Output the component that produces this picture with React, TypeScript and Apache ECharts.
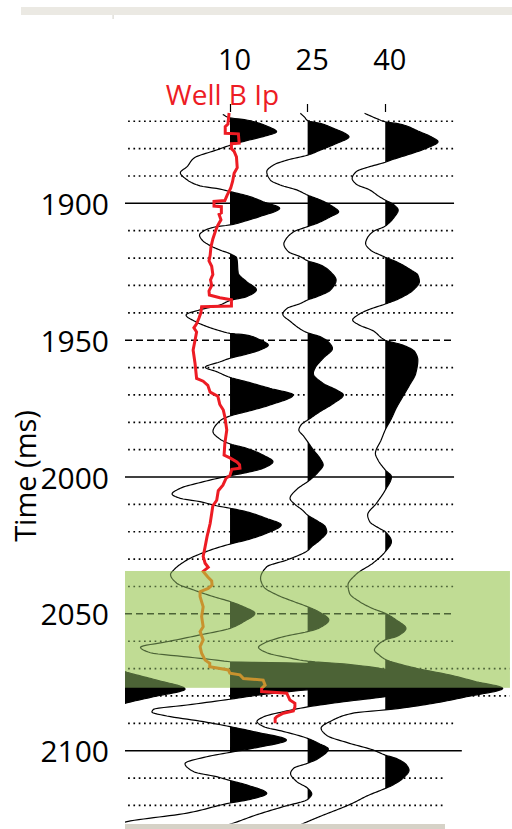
import React, { useEffect, useRef } from "react";
import * as echarts from "echarts";

// ---- axes -----------------------------------------------------------------
const TIME_LABELS = [1900, 1950, 2000, 2050, 2100];
const TRACE_LABELS = [10, 25, 40];
const GUIDE_TIMES = [
  1870, 1880, 1890, 1900, 1910, 1920, 1930, 1940, 1950, 1960, 1970, 1980, 1990,
  2000, 2010, 2020, 2030, 2040, 2050, 2060, 2070, 2080, 2090, 2100, 2110, 2120,
];
const TIME_RANGE = [1863.7, 2126.6];
const OFFSET_RANGE = [-10.3, 64.5];

// highlighted interval (ms)
const GREEN_ZONE = [2034.3, 2077.0];

// ---- wiggle traces: [time ms, amplitude] ------------------------------------
const TRACE_10: [number, number][] = [
  [1867.5, -1.4], [1868.8, 0], [1869.2, 2.0], [1870.1, 4.5], [1871.7, 7.0], [1873.8, 9.0],
  [1875.6, 6.4], [1877.1, 3.2], [1878.8, 0], [1880.5, -2.6], [1883.5, -7.0], [1886.6, -8.3],
  [1888.8, -9.6], [1891.4, -8.3], [1893.6, -5.8], [1894.8, -1.9], [1895.7, 0], [1897.5, 3.8],
  [1899.4, 6.4], [1901.8, 9.6], [1904.8, 5.8], [1906.3, 3.2], [1907.9, 0], [1908.5, -2.6],
  [1910.1, -5.1], [1911.6, -5.9], [1913.4, -5.4], [1915.5, -3.8], [1917.1, -1.9], [1918.4, 0],
  [1920.0, 1.3], [1925.5, 1.6], [1928.6, 3.2], [1931.6, 5.1], [1934.1, 3.2], [1935.5, 0],
  [1937.1, -1.9], [1938.9, -5.8], [1940.8, -8.5], [1943.2, -6.7], [1945.0, -4.5], [1946.6, -1.9],
  [1947.5, 0], [1948.1, 3.2], [1949.9, 5.8], [1951.8, 7.4], [1953.6, 5.8], [1955.4, 2.6],
  [1956.6, 0], [1957.9, -1.9], [1959.9, -4.8], [1961.5, -2.6], [1963.6, 0], [1965.2, 3.2],
  [1967.6, 7.7], [1970.0, 12.2], [1973.7, 7.7], [1976.1, 3.2], [1977.7, 0], [1979.4, -1.9],
  [1983.4, -3.3], [1986.2, -1.9], [1987.9, 0], [1989.5, 3.2], [1992.0, 6.4], [1994.4, 8.3],
  [1996.8, 6.4], [1998.6, 2.6], [1999.5, 0], [2001.7, -5.1], [2004.1, -9.6], [2006.2, -11.2],
  [2007.8, -9.6], [2009.0, -5.8], [2010.5, -2.6], [2011.4, 0], [2012.7, 3.2], [2015.1, 7.0],
  [2017.5, 9.9], [2020.6, 7.0], [2023.0, 3.2], [2024.5, 0], [2026.7, -3.8], [2030.3, -8.3],
  [2034.0, -10.9], [2035.6, -11.5], [2038.8, -10.3], [2041.3, -7.0], [2043.7, -3.2], [2045.5, 0],
  [2047.4, 2.6], [2049.8, 4.8], [2052.9, 2.6], [2055.3, 0], [2057.7, -5.8], [2060.2, -12.2],
  [2062.2, -17.3], [2064.2, -15.4], [2065.6, -9.0], [2066.9, -2.6], [2067.5, 0], [2068.1, 14.8],
  [2070.5, 20.0], [2074.0, 23.0], [2077.0, 18.0], [2078.5, 11.0], [2079.6, 5.8], [2081.2, 0],
  [2083.3, -8.3], [2084.9, -14.8], [2085.9, -15.1], [2087.1, -12.8], [2089.4, -5.1], [2091.2, 0],
  [2093.0, 4.5], [2096.1, 10.9], [2099.1, 4.5], [2100.6, 0], [2102.2, -4.5], [2104.7, -8.7],
  [2107.7, -7.0], [2109.5, -2.6], [2110.9, 0], [2112.5, 3.2], [2115.6, 7.1], [2117.8, 3.9],
  [2119.1, 0], [2122.8, -8.3], [2125.9, -19.9], [2128.0, -24.0],
];

const TRACE_25: [number, number][] = [
  [1867.1, -1.4], [1868.5, -0.6], [1869.8, 0], [1870.8, 2.5], [1872.6, 5.0], [1874.4, 7.2],
  [1875.7, 8.0], [1878.1, 5.6], [1880.5, 2.5], [1882.4, 0], [1884.2, -4.0], [1886.0, -6.6],
  [1888.4, -7.9], [1891.5, -7.2], [1893.3, -5.3], [1895.1, -2.1], [1897.0, 0], [1898.8, 2.5],
  [1901.0, 4.7], [1903.1, 6.0], [1904.9, 4.4], [1907.3, 1.8], [1908.5, 0], [1910.4, -2.7],
  [1913.4, -4.3], [1914.8, -4.6], [1917.7, -3.7], [1919.5, -1.4], [1921.0, 0], [1922.5, 2.5],
  [1925.0, 4.4], [1928.0, 5.5], [1931.7, 4.4], [1934.1, 1.8], [1935.3, 0], [1936.6, -1.4],
  [1938.4, -4.0], [1940.5, -4.8], [1943.2, -3.3], [1946.3, -1.1], [1947.3, 0], [1948.7, 2.4],
  [1951.2, 4.3], [1953.0, 4.8], [1956.6, 3.0], [1960.3, 1.4], [1962.1, 1.1], [1965.8, 3.0],
  [1968.2, 5.6], [1970.0, 6.9], [1973.1, 5.0], [1976.1, 2.4], [1979.2, 0], [1980.8, -1.2],
  [1982.8, -1.7], [1985.0, -0.8], [1987.1, 0], [1990.1, 1.1], [1993.2, 2.4], [1995.6, 3.0],
  [1998.1, 2.1], [2000.5, 0.8], [2001.7, 0], [2004.5, -2.1], [2007.8, -3.4], [2009.9, -2.5],
  [2012.1, -1.0], [2013.9, 0], [2016.3, 2.1], [2018.1, 3.4], [2020.0, 3.7], [2023.0, 2.4],
  [2025.4, 0.8], [2026.9, 0], [2030.3, -4.0], [2032.8, -7.9], [2037.0, -9.1], [2040.1, -8.5],
  [2043.1, -5.9], [2045.5, -2.7], [2047.4, 0], [2049.2, 2.1], [2052.2, 4.1], [2055.3, 2.1],
  [2056.5, 0], [2058.3, -4.6], [2060.8, -8.5], [2062.2, -9.5], [2064.2, -7.9], [2066.2, -3.3],
  [2067.3, 0], [2068.3, 7.0], [2070.3, 15.0], [2073.0, 19.0], [2076.5, 22.0], [2078.5, 19.0],
  [2080.3, 14.7], [2082.1, 7.0], [2084.0, 0], [2085.7, -4.6], [2087.6, -8.5], [2089.3, -9.8],
  [2091.2, -8.5], [2093.0, -4.6], [2095.5, 0], [2097.3, 2.1], [2099.4, 4.0], [2102.8, 2.1],
  [2104.6, 0], [2106.4, -2.7], [2108.3, -3.3], [2111.3, -2.1], [2113.7, 0], [2115.8, 0.8],
  [2117.8, 0], [2120.4, -4.6], [2123.5, -10.0], [2126.5, -14.4], [2128.0, -17.0],
];

const TRACE_40: [number, number][] = [
  [1867.1, -4.0], [1869.0, -1.7], [1870.2, 0], [1871.0, 2.8], [1873.8, 6.6], [1875.7, 8.9],
  [1877.5, 10.2], [1879.9, 7.9], [1882.4, 4.1], [1884.4, 0.8], [1885.0, 0], [1886.6, -3.0],
  [1888.4, -5.6], [1890.9, -6.4], [1893.0, -5.6], [1895.1, -3.0], [1897.6, -1.1], [1898.8, 0],
  [1900.3, 1.5], [1902.5, 2.5], [1904.9, 1.8], [1908.3, 0], [1910.4, -2.4], [1912.8, -3.5],
  [1914.6, -3.8], [1917.3, -2.7], [1919.0, -0.8], [1919.7, 0], [1921.3, 2.1], [1924.4, 5.0],
  [1926.2, 6.3], [1928.6, 6.6], [1931.7, 5.4], [1934.7, 2.8], [1936.8, 0], [1938.7, -3.0],
  [1940.8, -5.3], [1942.6, -6.3], [1944.5, -5.0], [1946.5, -2.4], [1950.0, 0], [1951.8, 3.4],
  [1954.2, 5.7], [1957.3, 6.3], [1962.1, 5.9], [1966.4, 4.7], [1970.6, 3.4], [1974.9, 2.1],
  [1978.6, 1.2], [1982.8, 0], [1986.5, -0.8], [1991.4, -1.9], [1993.8, -1.4], [1997.4, 0],
  [1999.9, 1.2], [2004.8, 0], [2009.6, -1.7], [2013.9, -3.4], [2016.3, -3.0], [2018.8, -1.1],
  [2020.0, 0], [2023.6, 1.2], [2027.3, 0], [2031.5, -2.4], [2035.5, -5.6], [2039.5, -7.2],
  [2042.5, -6.9], [2045.5, -5.0], [2048.0, -2.5], [2049.8, 0], [2052.2, 2.1], [2055.3, 4.0],
  [2058.1, 2.4], [2059.5, 0], [2061.5, -1.5], [2063.2, -2.1], [2065.0, -1.2], [2066.6, 0],
  [2069.9, 6.0], [2072.3, 12.4], [2074.8, 17.6], [2077.2, 22.7], [2080.3, 15.7], [2082.7, 9.2],
  [2084.5, 2.8], [2085.1, 0], [2086.2, -6.0], [2088.8, -10.1], [2091.8, -12.4], [2094.3, -11.4],
  [2097.3, -6.9], [2099.7, -2.4], [2101.6, 0], [2102.8, 2.1], [2105.2, 4.1], [2107.1, 4.6],
  [2110.1, 3.4], [2112.5, 1.5], [2113.8, 0], [2116.5, -3.5], [2119.2, -6.3], [2124.1, -12.7],
  [2125.9, -15.0], [2128.0, -17.5],
];

// neighbouring trace left of the panel; only its strong peak reaches in
const TRACE_LEFT: [number, number][] = [
  [2062.0, 0], [2071.1, 9.7], [2073.9, 15.2], [2077.5, 21.3], [2080.3, 15.2], [2082.7, 9.7], [2090.0, 0],
];

const TRACES = [
  { offset: -20, samples: TRACE_LEFT },
  { offset: 10, samples: TRACE_10 },
  { offset: 25, samples: TRACE_25 },
  { offset: 40, samples: TRACE_40 },
];

// ---- Well B acoustic impedance (relative units): [time ms, Ip] ----------------
const WELL_B_IP: [number, number][] = [
  [1867.0, 26.9], [1871.0, 26.6], [1872.0, 25.9], [1874.4, 25.9], [1874.6, 29.3], [1878.0, 29.5],
  [1878.2, 27.5], [1880.0, 27.5], [1881.0, 28.2], [1883.0, 28.8], [1887.0, 29.0], [1889.0, 28.2],
  [1892.0, 27.8], [1894.5, 27.3], [1897.0, 26.4], [1899.0, 25.8], [1899.3, 23.0], [1901.0, 23.0],
  [1901.2, 24.9], [1903.5, 24.9], [1904.0, 24.3], [1906.0, 24.8], [1908.0, 24.0], [1910.0, 23.4],
  [1913.0, 22.7], [1916.0, 22.2], [1919.0, 22.0], [1921.0, 21.7], [1923.0, 22.4], [1926.0, 22.7],
  [1928.0, 22.1], [1930.0, 22.4], [1932.0, 21.7], [1933.5, 21.8], [1934.5, 24.5], [1935.2, 27.5],
  [1937.5, 27.5], [1937.8, 19.8], [1940.0, 19.6], [1942.0, 19.1], [1944.0, 18.5], [1945.5, 17.8],
  [1947.0, 18.5], [1950.0, 18.1], [1953.6, 17.6], [1958.5, 18.1], [1964.0, 18.5], [1965.0, 20.2],
  [1966.5, 21.4], [1969.0, 22.0], [1970.5, 24.0], [1973.5, 24.5], [1975.5, 25.4], [1978.0, 25.8],
  [1982.8, 26.3], [1987.7, 25.8], [1992.0, 25.6], [1993.0, 27.1], [1994.5, 28.9], [1995.5, 29.6],
  [1996.8, 29.7], [1997.2, 27.6], [1999.5, 27.1], [2000.5, 26.1], [2003.0, 25.3], [2005.0, 24.1],
  [2008.5, 23.7], [2010.5, 22.7], [2013.3, 22.4], [2017.0, 22.0], [2021.8, 21.2], [2025.5, 20.7],
  [2029.0, 20.2], [2031.5, 20.7], [2033.0, 21.5], [2034.5, 20.2], [2036.5, 21.4], [2038.0, 22.4],
  [2039.5, 22.5], [2040.7, 21.5], [2041.9, 19.4], [2043.7, 19.4], [2047.4, 20.2], [2051.0, 19.8],
  [2054.7, 20.2], [2056.5, 19.4], [2059.5, 20.2], [2062.0, 19.4], [2064.4, 19.8], [2066.9, 20.7],
  [2068.1, 21.9], [2069.3, 21.9], [2070.5, 26.7], [2071.7, 27.1], [2072.3, 29.7], [2073.6, 30.6],
  [2074.2, 35.7], [2076.0, 36.2], [2077.2, 35.3], [2078.4, 35.3], [2079.0, 41.8], [2081.5, 42.6],
  [2082.7, 43.9], [2084.0, 43.9], [2085.5, 43.5], [2086.3, 40.9], [2087.6, 39.2], [2088.2, 38.8],
  [2090.0, 38.8],
];

// ---- styling --------------------------------------------------------------
const FONT = '"Open Sans", "Noto Sans", sans-serif';
const RED = "#ed1c24";
const OCHRE = "#c8922e";
const GREEN_BASE = "rgb(197,206,161)";
const GREEN_VEIL = "rgba(185,240,130,0.41)";

// horizontal extent (offset units) of each guide line
function guideExtent(t: number): [number, number] {
  if (t === 2100) return [-10.3, 54.8];
  if (t % 50 === 0) return [-10.3, 53.3];
  if (t === 2070 || t === 2080) return [-9.7, 64.1];
  if (t >= 2110) return [-9.7, 51.2];
  return [-9.7, 53.3];
}

function guideStyle(t: number) {
  if (t % 100 === 0) return { stroke: "#000", lineWidth: 1.5 };
  if (t % 50 === 0) return { stroke: "#000", lineWidth: 1.5, lineDash: [7, 4] };
  return { stroke: "#000", lineWidth: 1.7, lineDash: [1.7, 3.6] };
}

// monotone cubic (Fritsch–Carlson) resampling of amplitude against time
function monotone(pts: [number, number][], step: number): [number, number][] {
  const n = pts.length;
  const h: number[] = [];
  const d: number[] = [];
  for (let i = 0; i < n - 1; i++) {
    h[i] = pts[i + 1][0] - pts[i][0];
    d[i] = (pts[i + 1][1] - pts[i][1]) / h[i];
  }
  const m: number[] = new Array(n).fill(0);
  m[0] = d[0];
  m[n - 1] = d[n - 2];
  for (let i = 1; i < n - 1; i++) {
    if (d[i - 1] * d[i] <= 0) m[i] = 0;
    else {
      const w1 = 2 * h[i] + h[i - 1];
      const w2 = h[i] + 2 * h[i - 1];
      m[i] = (w1 + w2) / (w1 / d[i - 1] + w2 / d[i]);
    }
  }
  const out: [number, number][] = [];
  for (let i = 0; i < n - 1; i++) {
    const k = Math.max(2, Math.ceil(h[i] / step));
    for (let j = 0; j < k; j++) {
      const s = j / k;
      const s2 = s * s;
      const s3 = s2 * s;
      const a =
        (2 * s3 - 3 * s2 + 1) * pts[i][1] +
        (s3 - 2 * s2 + s) * h[i] * m[i] +
        (-2 * s3 + 3 * s2) * pts[i + 1][1] +
        (s3 - s2) * h[i] * m[i + 1];
      out.push([pts[i][0] + s * h[i], a]);
    }
  }
  out.push(pts[n - 1]);
  return out;
}

function traceSeries(offset: number, samples: [number, number][]) {
  const dense = monotone(samples, 0.25);
  return {
    type: "custom",
    coordinateSystem: "cartesian2d",
    xAxisIndex: 0,
    yAxisIndex: 0,
    z: 3,
    silent: true,
    clip: true,
    data: [[offset, samples[0][0]]],
    renderItem: (_params: any, api: any) => {
      const pts = dense.map(([t, a]) => api.coord([offset + a, t]));
      const bx = api.coord([offset, dense[0][0]])[0];
      const fill = pts.map(([x, y]: number[]) => [Math.max(x, bx), y]);
      fill.push([bx, pts[pts.length - 1][1]], [bx, pts[0][1]]);
      return {
        type: "group",
        children: [
          { type: "polygon", shape: { points: fill }, style: { fill: "#000", stroke: null } },
          {
            type: "polyline",
            shape: { points: pts },
            style: { stroke: "#000", lineWidth: 1.2, fill: null },
          },
        ],
      };
    },
  };
}

function zoneSeries(color: string, z: number) {
  return {
    type: "custom",
    coordinateSystem: "cartesian2d",
    xAxisIndex: 0,
    yAxisIndex: 0,
    z,
    silent: true,
    clip: false,
    data: [[0, GREEN_ZONE[0]]],
    renderItem: (_params: any, api: any) => {
      const p1 = api.coord([OFFSET_RANGE[0], GREEN_ZONE[0]]);
      const p2 = api.coord([64.1, GREEN_ZONE[1]]);
      return {
        type: "rect",
        shape: { x: p1[0], y: p1[1], width: p2[0] - p1[0], height: p2[1] - p1[1] },
        style: { fill: color },
      };
    },
  };
}

export default function App() {
  const ref = useRef<HTMLDivElement>(null);

  useEffect(() => {
    if (!ref.current) return;
    const chart = echarts.init(ref.current, null, { renderer: "svg" });

    const series: any[] = [
      zoneSeries(GREEN_BASE, 1),
      {
        type: "custom",
        coordinateSystem: "cartesian2d",
        xAxisIndex: 0,
        yAxisIndex: 0,
        z: 2,
        silent: true,
        clip: false,
        data: GUIDE_TIMES.map((t) => [0, t]),
        renderItem: (_params: any, api: any) => {
          const t = api.value(1);
          const [x1, x2] = guideExtent(t);
          const p1 = api.coord([x1, t]);
          const p2 = api.coord([x2, t]);
          return {
            type: "line",
            shape: { x1: p1[0], y1: p1[1], x2: p2[0], y2: p2[1] },
            style: guideStyle(t),
          };
        },
      },
      ...TRACES.map((tr) => traceSeries(tr.offset, tr.samples)),
      zoneSeries(GREEN_VEIL, 4),
      {
        type: "line",
        name: "Well B Ip",
        xAxisIndex: 1,
        yAxisIndex: 0,
        z: 5,
        silent: true,
        showSymbol: false,
        symbol: "none",
        data: WELL_B_IP.map(([t, ip]) => [ip, t]),
        lineStyle: { width: 3, join: "miter" },
      },
    ];
    const wellIndex = series.length - 1;

    chart.setOption({
      animation: false,
      grid: { left: 125, right: 0, top: 104, bottom: 5.5, containLabel: false },
      xAxis: [
        {
          type: "value",
          position: "top",
          min: OFFSET_RANGE[0],
          max: OFFSET_RANGE[1],
          splitLine: { show: false },
          axisLine: { show: false },
          axisTick: {
            show: true,
            inside: true,
            length: 8,
            customValues: TRACE_LABELS,
            lineStyle: { color: "#000", width: 1.2 },
          },
          axisLabel: {
            customValues: TRACE_LABELS,
            formatter: (v: number) => String(v),
            fontSize: 29,
            lineHeight: 22,
            fontFamily: FONT,
            color: "#000",
            margin: 35,
            padding: [0, 0, 0, 9],
          },
        },
        { type: "value", min: 0, max: 100, show: false, position: "bottom" },
      ],
      yAxis: {
        type: "value",
        inverse: true,
        min: TIME_RANGE[0],
        max: TIME_RANGE[1],
        splitLine: { show: false },
        axisLine: { show: false },
        axisTick: { show: false },
        axisLabel: {
          customValues: TIME_LABELS,
          formatter: (v: number) => String(v),
          fontSize: 30,
          fontFamily: FONT,
          color: "#000",
          margin: 16,
          padding: [0, 0, 6, 0],
        },
      },
      visualMap: {
        type: "piecewise",
        show: false,
        seriesIndex: wellIndex,
        dimension: 1,
        pieces: [
          { lt: GREEN_ZONE[0], color: RED },
          { gte: GREEN_ZONE[0], lte: GREEN_ZONE[1], color: OCHRE },
          { gt: GREEN_ZONE[1], color: RED },
        ],
      },
      graphic: [
        { type: "rect", z: 0, shape: { x: 21, y: 7, width: 491, height: 8 }, style: { fill: "#ebe9e3" } },
        { type: "rect", z: 0, shape: { x: 112.5, y: 15, width: 1.2, height: 4 }, style: { fill: "#d9d7d0" } },
        { type: "rect", z: 10, shape: { x: 125, y: 824, width: 320, height: 5 }, style: { fill: "#d6d2c7" } },
        {
          type: "text",
          z: 10,
          x: 222.5,
          y: 94,
          style: {
            text: "Well B Ip",
            fill: RED,
            font: `28px ${FONT}`,
            lineHeight: 22,
            align: "center",
            verticalAlign: "middle",
            textAlign: "center",
            textVerticalAlign: "middle",
          },
        },
        {
          type: "text",
          z: 10,
          x: 24,
          y: 476,
          rotation: Math.PI / 2,
          style: {
            text: "Time (ms)",
            fill: "#000",
            font: `29px ${FONT}`,
            align: "center",
            verticalAlign: "middle",
            textAlign: "center",
            textVerticalAlign: "middle",
          },
        },
      ],
      series,
    });

    return () => chart.dispose();
  }, []);

  return (
    <div
      ref={ref}
      style={{ position: "fixed", left: 0, top: 0, width: 512, height: 829, background: "#fff" }}
    />
  );
}
